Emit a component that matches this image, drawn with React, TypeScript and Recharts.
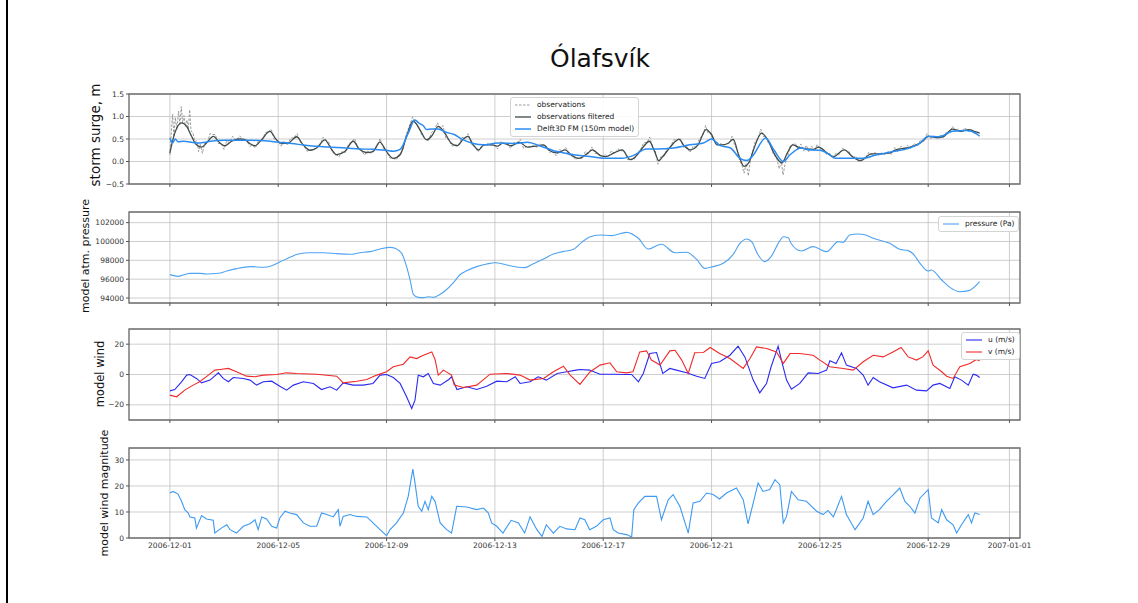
import React from "react";
import { LineChart, Line, XAxis, YAxis, CartesianGrid, ReferenceArea, Legend } from "recharts";

// time axis: days since 2006-12-01 00:00
const xTicks = [0, 4, 8, 12, 16, 20, 24, 28, 31];
const xTickLabels = ["2006-12-01", "2006-12-05", "2006-12-09", "2006-12-13", "2006-12-17", "2006-12-21", "2006-12-25", "2006-12-29", "2007-01-01"];
const X_MIN = -1.51;
const X_MAX = 31.39;

// storm surge, m
const surgeObs = [
  [0, 0.15], [0.05, 0.62], [0.1, 1.05], [0.15, 0.55], [0.2, 0.98], [0.26, 0.72], [0.32, 1.12], [0.37, 0.8], [0.42, 1.22], [0.47, 0.86],
  [0.52, 1.02], [0.57, 0.78], [0.63, 0.92], [0.68, 0.72], [0.73, 1.15], [0.78, 0.68], [0.85, 0.64], [0.92, 0.44], [1.0, 0.46], [1.06, 0.22],
  [1.12, 0.38], [1.2, 0.18], [1.28, 0.4], [1.38, 0.4], [1.48, 0.62], [1.58, 0.6], [1.68, 0.6], [1.78, 0.4], [1.9, 0.4], [2.0, 0.27],
  [2.1, 0.46], [2.2, 0.42], [2.32, 0.56], [2.45, 0.47], [2.58, 0.57], [2.7, 0.47], [2.82, 0.48], [2.95, 0.34], [3.05, 0.36], [3.15, 0.3],
  [3.28, 0.47], [3.4, 0.45], [3.52, 0.64], [3.64, 0.66], [3.74, 0.72], [3.86, 0.48], [3.98, 0.47], [4.1, 0.34], [4.22, 0.45], [4.34, 0.36],
  [4.46, 0.52], [4.58, 0.52], [4.7, 0.62], [4.82, 0.42], [4.94, 0.37], [5.06, 0.23], [5.18, 0.25], [5.3, 0.24], [5.42, 0.34], [5.54, 0.36],
  [5.66, 0.54], [5.76, 0.48], [5.88, 0.42], [6.0, 0.2], [6.12, 0.18], [6.24, 0.1], [6.36, 0.23], [6.48, 0.2], [6.6, 0.39], [6.72, 0.44],
  [6.82, 0.51], [6.94, 0.3], [7.06, 0.27], [7.18, 0.14], [7.3, 0.23], [7.42, 0.18], [7.54, 0.3], [7.66, 0.34], [7.76, 0.51], [7.88, 0.3],
  [8.0, 0.23], [8.12, 0.08], [8.24, 0.07], [8.36, 0.04], [8.48, 0.17], [8.6, 0.26], [8.72, 0.59], [8.84, 0.78], [8.96, 0.99], [9.06, 0.86],
  [9.18, 0.78], [9.3, 0.58], [9.42, 0.52], [9.54, 0.45], [9.66, 0.64], [9.78, 0.72], [9.88, 0.86], [9.98, 0.7], [10.08, 0.8], [10.2, 0.51],
  [10.3, 0.48], [10.42, 0.34], [10.54, 0.37], [10.66, 0.36], [10.78, 0.54], [10.9, 0.51], [11.02, 0.62], [11.14, 0.38], [11.26, 0.34], [11.38, 0.21],
  [11.5, 0.34], [11.62, 0.36], [11.74, 0.4], [11.86, 0.36], [11.98, 0.37], [12.1, 0.28], [12.22, 0.44], [12.34, 0.39], [12.46, 0.4], [12.58, 0.29],
  [12.7, 0.42], [12.82, 0.42], [12.94, 0.49], [13.06, 0.29], [13.18, 0.34], [13.3, 0.31], [13.42, 0.36], [13.54, 0.32], [13.66, 0.39], [13.78, 0.36],
  [13.9, 0.34], [14.02, 0.2], [14.14, 0.24], [14.26, 0.13], [14.38, 0.26], [14.5, 0.24], [14.62, 0.31], [14.74, 0.14], [14.86, 0.17], [14.98, 0.04],
  [15.1, 0.09], [15.22, 0.06], [15.34, 0.22], [15.46, 0.18], [15.58, 0.32], [15.7, 0.18], [15.82, 0.18], [15.94, 0.06], [16.06, 0.16], [16.18, 0.1],
  [16.3, 0.24], [16.42, 0.18], [16.54, 0.28], [16.66, 0.24], [16.78, 0.24], [16.9, 0.04], [17.02, 0.06], [17.14, 0.04], [17.26, 0.19], [17.38, 0.26],
  [17.5, 0.42], [17.62, 0.42], [17.72, 0.54], [17.82, 0.32], [17.92, 0.24], [18.02, -0.06], [18.12, 0.1], [18.24, 0.11], [18.36, 0.29], [18.48, 0.32],
  [18.6, 0.48], [18.72, 0.48], [18.84, 0.52], [18.96, 0.32], [19.08, 0.34], [19.2, 0.2], [19.32, 0.34], [19.44, 0.32], [19.56, 0.52], [19.68, 0.58],
  [19.78, 0.8], [19.86, 0.64], [19.96, 0.64], [20.06, 0.48], [20.16, 0.44], [20.26, 0.4], [20.36, 0.39], [20.46, 0.36], [20.56, 0.4], [20.66, 0.41],
  [20.76, 0.56], [20.84, 0.38], [20.94, 0.26], [21.04, 0.01], [21.12, -0.08], [21.2, -0.26], [21.28, -0.04], [21.36, -0.32], [21.44, 0.06], [21.52, 0.22],
  [21.62, 0.46], [21.72, 0.51], [21.82, 0.72], [21.9, 0.56], [22.0, 0.56], [22.1, 0.41], [22.2, 0.34], [22.3, 0.14], [22.4, 0.09], [22.5, -0.16],
  [22.58, 0.0], [22.64, -0.3], [22.72, -0.04], [22.8, 0.08], [22.9, 0.34], [23.0, 0.38], [23.1, 0.4], [23.2, 0.26], [23.3, 0.39], [23.4, 0.23],
  [23.5, 0.36], [23.6, 0.21], [23.7, 0.34], [23.8, 0.22], [23.9, 0.38], [24.0, 0.28], [24.12, 0.29], [24.24, 0.16], [24.36, 0.18], [24.48, 0.06],
  [24.6, 0.19], [24.72, 0.16], [24.84, 0.3], [24.96, 0.24], [25.08, 0.22], [25.2, 0.08], [25.32, 0.12], [25.44, -0.01], [25.56, 0.08], [25.68, 0.06],
  [25.8, 0.2], [25.92, 0.15], [26.04, 0.2], [26.16, 0.14], [26.28, 0.19], [26.4, 0.16], [26.52, 0.22], [26.64, 0.16], [26.76, 0.31], [26.88, 0.21],
  [27.0, 0.34], [27.12, 0.24], [27.24, 0.36], [27.36, 0.29], [27.48, 0.4], [27.6, 0.34], [27.72, 0.48], [27.84, 0.46], [27.96, 0.62], [28.08, 0.51],
  [28.2, 0.56], [28.32, 0.51], [28.44, 0.58], [28.56, 0.54], [28.68, 0.66], [28.8, 0.66], [28.9, 0.78], [29.0, 0.66], [29.12, 0.72], [29.24, 0.66],
  [29.36, 0.75], [29.48, 0.67], [29.6, 0.71], [29.72, 0.63], [29.84, 0.66], [29.9, 0.62],
];

const surgeFiltered = [
  [0, 0.19], [0.18, 0.63], [0.43, 0.86], [0.62, 0.78], [0.8, 0.56], [0.98, 0.37], [1.17, 0.32], [1.35, 0.41], [1.6, 0.56], [1.85, 0.41],
  [2.03, 0.35], [2.28, 0.45], [2.58, 0.5], [2.75, 0.49], [2.95, 0.4], [3.14, 0.35], [3.38, 0.48], [3.69, 0.67], [3.94, 0.48], [4.12, 0.4],
  [4.37, 0.41], [4.68, 0.55], [4.92, 0.37], [5.17, 0.25], [5.42, 0.3], [5.72, 0.48], [5.97, 0.27], [6.15, 0.15], [6.46, 0.22], [6.77, 0.45],
  [7.0, 0.27], [7.25, 0.2], [7.5, 0.22], [7.75, 0.43], [8.0, 0.22], [8.25, 0.07], [8.5, 0.15], [8.74, 0.56], [8.98, 0.9], [9.23, 0.71],
  [9.48, 0.48], [9.66, 0.56], [9.91, 0.78], [10.15, 0.63], [10.4, 0.4], [10.6, 0.35], [10.84, 0.5], [11.0, 0.56], [11.2, 0.37], [11.4, 0.26],
  [11.6, 0.37], [11.9, 0.37], [12.1, 0.34], [12.3, 0.41], [12.6, 0.35], [12.9, 0.43], [13.2, 0.32], [13.5, 0.34], [13.8, 0.37], [14.0, 0.25],
  [14.3, 0.19], [14.6, 0.26], [14.8, 0.15], [15.1, 0.07], [15.4, 0.17], [15.6, 0.26], [15.9, 0.13], [16.1, 0.11], [16.4, 0.19], [16.7, 0.26],
  [17.0, 0.04], [17.2, 0.11], [17.5, 0.34], [17.7, 0.45], [17.9, 0.22], [18.05, 0.02], [18.2, 0.11], [18.5, 0.34], [18.8, 0.49], [19.0, 0.34],
  [19.2, 0.26], [19.5, 0.37], [19.8, 0.71], [20.0, 0.6], [20.2, 0.37], [20.4, 0.37], [20.6, 0.4], [20.8, 0.49], [21.0, 0.15], [21.2, -0.11],
  [21.4, 0.0], [21.55, 0.26], [21.85, 0.63], [22.1, 0.45], [22.3, 0.19], [22.6, -0.03], [22.8, 0.19], [23.0, 0.37], [23.2, 0.32], [23.5, 0.28],
  [23.75, 0.27], [23.95, 0.32], [24.25, 0.2], [24.5, 0.11], [24.9, 0.26], [25.2, 0.11], [25.5, 0.02], [25.9, 0.17], [26.2, 0.17], [26.6, 0.19],
  [26.8, 0.26], [27.2, 0.3], [27.45, 0.34], [27.8, 0.45], [28.0, 0.56], [28.3, 0.53], [28.55, 0.55], [28.9, 0.72], [29.2, 0.67], [29.5, 0.71],
  [29.7, 0.67], [29.9, 0.63],
];

const surgeModel = [
  [0, 0.52], [0.1, 0.42], [0.2, 0.5], [0.3, 0.44], [0.5, 0.45], [0.8, 0.43], [1.0, 0.41], [1.2, 0.42], [1.5, 0.45], [2.0, 0.47],
  [2.5, 0.47], [3.0, 0.47], [3.5, 0.46], [4.0, 0.43], [4.5, 0.4], [5.0, 0.36], [5.8, 0.32], [6.5, 0.3], [7.0, 0.28], [7.5, 0.27],
  [8.0, 0.25], [8.25, 0.23], [8.5, 0.27], [8.8, 0.63], [9.05, 0.92], [9.2, 0.85], [9.35, 0.8], [9.48, 0.71], [9.66, 0.72], [9.9, 0.72],
  [10.2, 0.65], [10.5, 0.6], [10.8, 0.49], [11.2, 0.4], [11.6, 0.37], [12.1, 0.41], [12.8, 0.4], [13.2, 0.43], [13.7, 0.34], [14.3, 0.22],
  [14.9, 0.15], [15.5, 0.11], [16.1, 0.07], [16.7, 0.07], [17.1, 0.13], [17.6, 0.28], [18.0, 0.28], [18.6, 0.3], [19.2, 0.37], [19.7, 0.41],
  [20.0, 0.5], [20.3, 0.36], [20.7, 0.3], [21.05, 0.07], [21.3, 0.02], [21.5, 0.11], [22.0, 0.52], [22.3, 0.26], [22.65, 0.0], [22.9, 0.15],
  [23.3, 0.3], [23.6, 0.26], [24.0, 0.25], [24.25, 0.19], [24.6, 0.07], [25.2, 0.07], [25.6, 0.07], [26.1, 0.15], [26.7, 0.22], [27.2, 0.28],
  [27.7, 0.41], [28.0, 0.56], [28.4, 0.55], [28.9, 0.67], [29.4, 0.69], [29.8, 0.61], [29.9, 0.56],
];

// model atm. pressure, Pa
const pressure = [
  [0, 96480], [0.3, 96300], [0.74, 96620], [1.1, 96620], [1.35, 96550], [1.8, 96620], [2.1, 96870], [2.46, 97120], [2.96, 97330], [3.45, 97260],
  [3.76, 97430], [4.06, 97820], [4.43, 98320], [4.74, 98670], [5.17, 98810], [5.67, 98810], [6.16, 98710], [6.65, 98640], [7.02, 98810], [7.39, 98920],
  [7.76, 99200], [8.13, 99380], [8.31, 99270], [8.56, 98740], [8.74, 97330], [8.87, 95910], [8.99, 94390], [9.17, 94070], [9.36, 94040], [9.54, 94140],
  [9.73, 94070], [9.98, 94390], [10.2, 94850], [10.47, 95630], [10.7, 96440], [10.96, 96900], [11.33, 97330], [11.7, 97610], [12.0, 97750], [12.44, 97500],
  [12.8, 97290], [13.1, 97220], [13.4, 97610], [13.8, 98140], [14.16, 98670], [14.5, 98920], [14.9, 99170], [15.2, 99900], [15.5, 100480], [15.88, 100690],
  [16.3, 100620], [16.86, 100970], [17.3, 100340], [17.66, 99200], [18.03, 99630], [18.15, 99700], [18.65, 98810], [19.08, 98850], [19.45, 98100], [19.75, 97150],
  [20.06, 97330], [20.43, 97680], [20.8, 98640], [21.05, 99810], [21.3, 100270], [21.48, 99980], [21.72, 98570], [21.97, 97860], [22.2, 98390], [22.5, 99980],
  [22.65, 100510], [22.83, 100400], [22.95, 99730], [23.32, 98990], [23.75, 99450], [24.25, 98920], [24.68, 99980], [24.86, 99910], [25.1, 100690], [25.4, 100800],
  [25.7, 100690], [25.97, 100340], [26.58, 99810], [26.95, 99170], [27.26, 99030], [27.45, 98670], [27.7, 97680], [28.0, 96870], [28.12, 96970], [28.5, 95910],
  [28.8, 95130], [29.17, 94670], [29.5, 94780], [29.9, 95730],
];

// model wind, m/s
const windU = [
  [0, -10.8], [0.18, -9.9], [0.43, -4.8], [0.62, -0.4], [0.74, 0], [0.98, -2.6], [1.17, -5.5], [1.48, -3.7], [1.79, 1.1], [1.97, -2.6],
  [2.16, -4.8], [2.34, -2], [2.71, -2.6], [2.96, -3.7], [3.2, -7], [3.45, -4.8], [3.76, -4.4], [4.06, -7.7], [4.31, -10.3], [4.56, -7],
  [4.93, -4.8], [5.3, -5.9], [5.6, -9.9], [5.91, -8.1], [6.16, -10.3], [6.4, -5.5], [6.77, -7], [7.14, -7], [7.5, -5.9], [7.76, -0.4],
  [8.0, 0], [8.25, -2], [8.5, -5.9], [8.74, -14.7], [8.93, -22.4], [9.05, -16.9], [9.17, -0.4], [9.36, -1.5], [9.54, 0.7], [9.73, -5.9],
  [9.98, -7], [10.3, -3.3], [10.4, -1.5], [10.6, -9.9], [10.96, -8.1], [11.33, -9.9], [11.7, -7.7], [12.07, -4.4], [12.44, -4.8], [12.75, -1.5],
  [12.93, -5.9], [13.3, -4.8], [13.6, -1.5], [13.9, -3.7], [14.3, 0.7], [14.65, 1.8], [15.0, 2.9], [15.14, 3.3], [15.5, 2.9], [15.88, 0.2],
  [16.37, 0.2], [16.86, 0], [17.05, 0], [17.3, -4.8], [17.48, 0.7], [17.72, 13.8], [17.97, 14.5], [18.2, 0.7], [18.46, 4], [18.7, 2.9],
  [19.08, 1.1], [19.45, -1.1], [19.75, -2.6], [20.0, 7.3], [20.3, 8.4], [20.68, 12.7], [20.98, 18.7], [21.23, 11.6], [21.54, -3.7], [21.78, -12.1],
  [22.03, -5.9], [22.2, 5.1], [22.46, 18.7], [22.58, 9.5], [22.77, -3.7], [22.95, -9.7], [23.26, -5.9], [23.57, 1.1], [23.94, 0.7], [24.25, 2.9],
  [24.37, 9], [24.6, 7.3], [24.8, 14.3], [24.98, 6.2], [25.35, 4], [25.6, -0.4], [25.78, -7], [25.97, -2], [26.2, -4.8], [26.7, -8.8],
  [27.2, -7], [27.57, -10.3], [27.94, -10.8], [28.18, -7], [28.43, -5.9], [28.8, -9.2], [28.98, -1.5], [29.23, -3.7], [29.48, -7], [29.66, 0.2],
  [29.78, -0.4], [29.9, -2],
];

const windV = [
  [0, -13.6], [0.25, -14.7], [0.55, -10.3], [0.86, -7], [1.1, -4.8], [1.42, -0.4], [1.66, 2.9], [1.85, 3.3], [2.16, 4], [2.46, 1.8],
  [2.83, -1.1], [3.14, -1.5], [3.45, -0.4], [3.94, 0], [4.31, 1.1], [4.68, 0.7], [5.42, 0.2], [6.16, -1.1], [6.4, -5.5], [6.9, -4.4],
  [7.27, -3.3], [7.64, -0.4], [8.0, 1.8], [8.25, 5.1], [8.62, 6.8], [8.87, 11.6], [9.11, 10.5], [9.36, 12.7], [9.67, 14.9], [9.79, 9.9],
  [9.91, -0.4], [10.1, 2.9], [10.4, -0.4], [10.5, -7], [10.84, -8.6], [11.33, -7], [11.82, 0.2], [12.44, 0.7], [12.93, -0.4], [13.3, -3.7],
  [13.8, -2.6], [14.16, 1.8], [14.53, 5.5], [14.78, -0.4], [15.14, -6.5], [15.5, 1.5], [15.88, 6.2], [16.25, 7.7], [16.5, 1.8], [16.86, 1.1],
  [17.1, 1.8], [17.35, 14.9], [17.6, 15.6], [17.78, 9.5], [18.1, 6.2], [18.46, 15.6], [18.65, 16], [18.9, 9.5], [19.14, 0.7], [19.38, 14.3],
  [19.7, 14.5], [19.95, 17.8], [20.3, 13.8], [20.68, 10.5], [21.17, 4], [21.42, 10.5], [21.66, 18.2], [22.03, 17.1], [22.4, 14.9], [22.65, 7.3],
  [22.9, 13.8], [23.26, 13.8], [23.75, 12.7], [24.0, 9.5], [24.37, 5.1], [24.86, 4], [25.23, 2.9], [25.6, 8.4], [25.97, 12.7], [26.34, 11.6],
  [26.7, 14.9], [27.0, 17.8], [27.26, 11.6], [27.57, 9.5], [27.8, 11.6], [28.0, 15.6], [28.18, 6.2], [28.5, 1.8], [28.68, -1.1], [28.92, -2.6],
  [29.17, 5.1], [29.54, 7.3], [29.78, 9.9], [29.9, 9],
];

// model wind magnitude, m/s
const windMag = [
  [0, 17.3], [0.12, 17.9], [0.3, 16.9], [0.43, 14.1], [0.55, 10.9], [0.68, 9.6], [0.74, 8.1], [0.92, 7.7], [0.98, 3.8], [1.17, 8.6],
  [1.35, 7.3], [1.6, 6.8], [1.66, 1.9], [1.9, 3.8], [2.1, 5.1], [2.22, 3.2], [2.46, 1.9], [2.71, 4.5], [2.96, 5.5], [3.14, 7],
  [3.26, 3.2], [3.39, 8.1], [3.57, 7.3], [3.76, 4.5], [3.94, 3.8], [4.06, 7.7], [4.25, 10.3], [4.43, 9.6], [4.68, 9], [4.93, 5.8],
  [5.17, 4.5], [5.42, 4.5], [5.6, 9.6], [5.79, 9], [6.03, 8.1], [6.22, 10.9], [6.28, 4.5], [6.4, 8.3], [6.65, 9], [6.9, 8.3],
  [7.27, 8.1], [7.5, 5.8], [7.76, 3.2], [8.0, 0.9], [8.13, 3.2], [8.37, 5.8], [8.62, 9.6], [8.8, 16], [8.97, 26.5], [9.05, 21.2],
  [9.17, 12.2], [9.3, 10.3], [9.42, 14.1], [9.54, 10.9], [9.67, 16], [9.79, 14.1], [9.98, 5.8], [10.22, 3.2], [10.4, 1.9], [10.59, 12.2],
  [10.96, 11.9], [11.33, 10.9], [11.58, 11.5], [11.76, 9.6], [11.88, 5.8], [12.07, 4.5], [12.3, 1.9], [12.6, 6.8], [12.87, 5.8], [13.1, 1.9],
  [13.3, 8.1], [13.55, 3.2], [13.74, 0.6], [13.9, 5.1], [14.16, 1.9], [14.4, 4.5], [14.65, 3.5], [14.96, 3.2], [15.14, 7.7], [15.32, 7],
  [15.5, 3.2], [15.75, 4.5], [16.0, 7], [16.25, 7.7], [16.37, 3.2], [16.55, 1.9], [16.86, 1.3], [17.05, 0.4], [17.13, 10.9], [17.3, 13.5],
  [17.54, 16], [17.97, 16], [18.15, 7], [18.4, 14.7], [18.58, 16.7], [18.83, 12.2], [19.14, 1.9], [19.32, 13.5], [19.57, 14.1], [19.82, 17.3],
  [20.06, 16.7], [20.3, 15], [20.55, 17.3], [20.92, 19.2], [21.17, 14.7], [21.35, 5.4], [21.54, 13.5], [21.72, 21.2], [21.9, 17.9], [22.15, 18.6],
  [22.34, 22.4], [22.52, 20.5], [22.65, 5.8], [22.77, 8.3], [22.95, 17.9], [23.2, 14.7], [23.5, 14.1], [23.88, 10.3], [24.12, 9], [24.3, 10.6],
  [24.5, 8.1], [24.8, 16], [24.98, 9], [25.3, 3.2], [25.6, 7.7], [25.78, 14.1], [25.97, 9], [26.2, 10.9], [26.46, 14.1], [26.65, 16],
  [26.95, 19.2], [27.14, 14.1], [27.32, 12.2], [27.51, 9.6], [27.7, 15.4], [28.0, 18.6], [28.12, 7.7], [28.37, 5.8], [28.5, 10.9], [28.68, 7],
  [28.92, 5.1], [29.05, 1.9], [29.23, 5.1], [29.48, 9], [29.6, 5.8], [29.72, 9.6], [29.9, 9],
];

const pts = (a: number[][]) => a.map(([t, v]) => ({ t, v }));

const W = 1138;
const PLOT_LEFT = 129;
const PLOT_RIGHT = 1020;
const FONT = "'DejaVu Sans', sans-serif";
const tickStyle = { fontSize: 7.5, fill: "#333", fontFamily: FONT };

const fmtDate = (v: number) => xTickLabels[xTicks.indexOf(v)] ?? "";
const fmtMinus = (digits: number) => (v: number) => v.toFixed(digits).replace("-", "\u2212");

// keeps legend entries in the order the series are drawn
const LegendBox = ({ payload, order }: any) => {
  const items = [...(payload || [])].sort((a: any, b: any) => order.indexOf(a.value) - order.indexOf(b.value));
  return (
    <div style={{ background: "rgba(255,255,255,0.9)", border: "1px solid #d4d4d4", borderRadius: 3, padding: "1px 4px", fontSize: 7.5, lineHeight: "12px", color: "#222", fontFamily: FONT, whiteSpace: "nowrap" }}>
      {items.map((p: any) => (
        <div key={p.value} style={{ display: "flex", alignItems: "center" }}>
          <svg width={16} height={6} style={{ marginRight: 6 }}>
            <line x1={0} y1={3} x2={16} y2={3} stroke={p.color} strokeWidth={p.payload?.strokeWidth ?? 1} strokeDasharray={p.payload?.strokeDasharray} />
          </svg>
          <span>{p.value}</span>
        </div>
      ))}
    </div>
  );
};

const AxisTitle = ({ text, cx, cy, size }: any) => (
  <div style={{ position: "absolute", left: cx, top: cy, transform: "translate(-50%, -50%) rotate(-90deg)", fontSize: size, whiteSpace: "nowrap", fontFamily: FONT, color: "#111" }}>
    {text}
  </div>
);

const Panel = ({ top, height, yDomain, yTicks, yFmt, bottom, children }: any) => {
  const mt = 5;
  const xh = bottom ? 22 : 6;
  return (
    <div style={{ position: "absolute", left: 0, top: top - mt }}>
      <LineChart width={W} height={height + mt + xh} margin={{ top: mt, right: W - PLOT_RIGHT, bottom: 0, left: 0 }}>
        <CartesianGrid stroke="#c2c2c2" strokeWidth={0.8} />
        <XAxis dataKey="t" type="number" domain={[X_MIN, X_MAX]} allowDataOverflow ticks={xTicks} interval={0}
          tickFormatter={bottom ? fmtDate : () => ""} height={xh} axisLine={false} tickSize={3} tickMargin={2}
          tick={tickStyle} tickLine={{ stroke: "#555" }} />
        <YAxis type="number" domain={yDomain} allowDataOverflow ticks={yTicks} interval={0} tickFormatter={yFmt}
          width={PLOT_LEFT} axisLine={false} tickSize={3} tickMargin={2} tick={tickStyle} tickLine={{ stroke: "#555" }} />
        {children}
        <ReferenceArea x1={X_MIN} x2={X_MAX} y1={yDomain[0]} y2={yDomain[1]} fill="none" stroke="#707070" strokeWidth={1.3} ifOverflow="visible" />
      </LineChart>
    </div>
  );
};

const legendProps = { layout: "horizontal" as const, verticalAlign: "middle" as const, align: "center" as const };
const surgeOrder = ["observations", "observations filtered", "Delft3D FM (150m model)"];
const windOrder = ["u (m/s)", "v (m/s)"];

export default function App() {
  return (
    <div style={{ position: "absolute", left: 0, top: 0, width: W, height: 603, background: "#fff", fontFamily: FONT, overflow: "hidden" }}>
      <div style={{ position: "absolute", left: 6, top: 0, width: 2, height: 603, background: "#000" }} />
      <div style={{ position: "absolute", left: 480, width: 240, top: 44, textAlign: "center", fontSize: 25, color: "#111" }}>Ólafsvík</div>

      <AxisTitle text="storm surge, m" cx={95} cy={135} size={13.5} />
      <AxisTitle text="model atm. pressure" cx={85} cy={256} size={11} />
      <AxisTitle text="model wind" cx={100} cy={374} size={11.5} />
      <AxisTitle text="model wind magnitude" cx={104} cy={493} size={11} />

      <Panel top={94} height={90} yDomain={[-0.5, 1.5]} yTicks={[-0.5, 0, 0.5, 1, 1.5]} yFmt={fmtMinus(1)}>
        <Line data={pts(surgeObs)} dataKey="v" name="observations" type="linear" stroke="#8e8e8e" strokeWidth={0.9} strokeDasharray="2.5 1.5" dot={false} isAnimationActive={false} />
        <Line data={pts(surgeFiltered)} dataKey="v" name="observations filtered" type="monotone" stroke="#3e4b4a" strokeWidth={1.3} dot={false} isAnimationActive={false} />
        <Line data={pts(surgeModel)} dataKey="v" name="Delft3D FM (150m model)" type="monotone" stroke="#2a8cf2" strokeWidth={1.5} dot={false} isAnimationActive={false} />
        <Legend {...legendProps} content={(p: any) => <LegendBox {...p} order={surgeOrder} />} wrapperStyle={{ left: 510, top: 8, width: "auto" }} />
      </Panel>

      <Panel top={212} height={91} yDomain={[93470, 103130]} yTicks={[94000, 96000, 98000, 100000, 102000]} yFmt={(v: number) => String(v)}>
        <Line data={pts(pressure)} dataKey="v" name="pressure (Pa)" type="monotone" stroke="#4ea3f2" strokeWidth={1.1} dot={false} isAnimationActive={false} />
        <Legend {...legendProps} content={(p: any) => <LegendBox {...p} order={["pressure (Pa)"]} />} wrapperStyle={{ left: 938, top: 9, width: "auto" }} />
      </Panel>

      <Panel top={329} height={91} yDomain={[-30, 30]} yTicks={[-20, 0, 20]} yFmt={fmtMinus(0)}>
        <Line data={pts(windU)} dataKey="v" name="u (m/s)" type="linear" stroke="#2a2af0" strokeWidth={1.1} dot={false} isAnimationActive={false} />
        <Line data={pts(windV)} dataKey="v" name="v (m/s)" type="linear" stroke="#f02a2a" strokeWidth={1.1} dot={false} isAnimationActive={false} />
        <Legend {...legendProps} content={(p: any) => <LegendBox {...p} order={windOrder} />} wrapperStyle={{ left: 961, top: 8, width: "auto" }} />
      </Panel>

      <Panel top={448} height={90} yDomain={[0, 34.6]} yTicks={[0, 10, 20, 30]} yFmt={(v: number) => String(v)} bottom>
        <Line data={pts(windMag)} dataKey="v" name="wind magnitude" type="linear" stroke="#3d9af2" strokeWidth={1.1} dot={false} isAnimationActive={false} />
      </Panel>
    </div>
  );
}
